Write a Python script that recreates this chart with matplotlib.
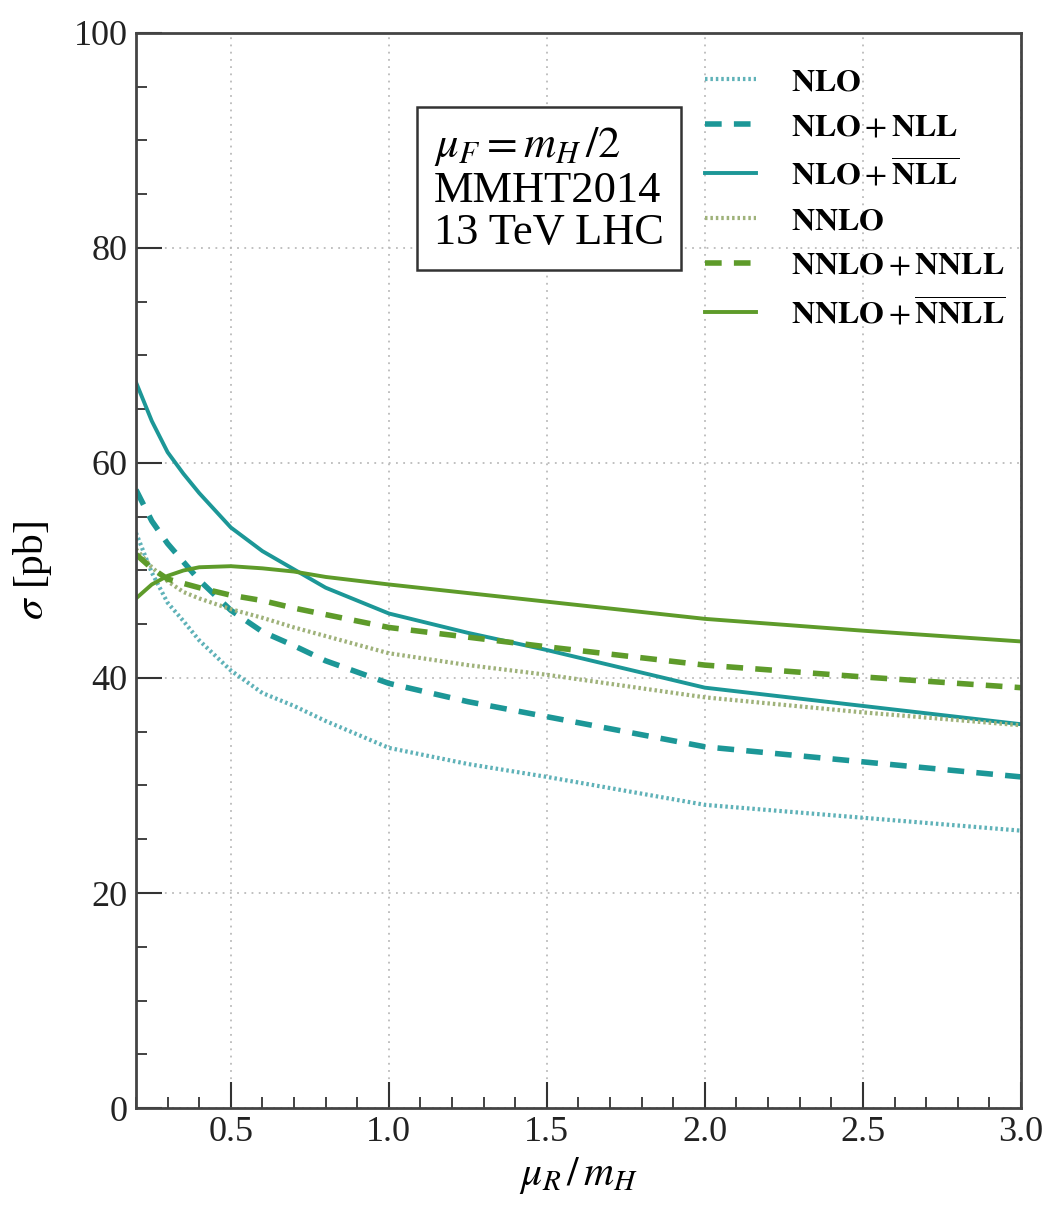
import matplotlib
matplotlib.use("Agg")
import matplotlib.pyplot as plt
from matplotlib.ticker import MultipleLocator

plt.rcParams['font.family'] = ['Liberation Serif', 'DejaVu Serif']
plt.rcParams['mathtext.fontset'] = 'stix'

# mu_R / m_H
x = [0.2, 0.25, 0.3, 0.35, 0.4, 0.5, 0.6, 0.7, 0.8, 1.0, 1.25, 1.5, 2.0, 2.5, 3.0]

nlo      = [53.5, 49.8, 47.0, 45.3, 43.5, 40.7, 38.6, 37.4, 36.0, 33.5, 32.0, 30.8, 28.2, 27.0, 25.8]
nlo_nll  = [57.5, 54.6, 52.5, 50.8, 49.1, 46.3, 44.3, 43.0, 41.6, 39.5, 37.8, 36.4, 33.6, 32.2, 30.8]
nlo_nllb = [67.5, 63.9, 61.0, 59.0, 57.2, 54.0, 51.8, 50.1, 48.4, 46.0, 44.2, 42.6, 39.1, 37.4, 35.7]
nnlo       = [52.0, 50.3, 49.0, 48.0, 47.4, 46.4, 45.6, 44.7, 43.9, 42.3, 41.2, 40.3, 38.2, 36.8, 35.6]
nnlo_nnll  = [51.5, 50.2, 49.2, 48.8, 48.4, 47.7, 47.2, 46.5, 45.9, 44.7, 43.8, 42.9, 41.2, 40.1, 39.1]
nnlo_nnllb = [47.4, 48.7, 49.5, 50.0, 50.3, 50.4, 50.2, 49.9, 49.4, 48.7, 47.9, 47.1, 45.5, 44.4, 43.4]

teal = '#1c9797'
teal_light = '#5fb2b8'
green = '#5e9b2a'
green_light = '#9fb27a'

fig = plt.figure(figsize=(10.56, 12.16), dpi=100)
ax = fig.add_axes([0.1288, 0.0888, 0.838, 0.8841])

ax.plot(x, nlo, color=teal_light, lw=3, ls=(0, (0.6, 0.7)), label=r'$\mathbf{NLO}$')
ax.plot(x, nlo_nll, color=teal, lw=4, ls=(0, (3, 2.2)), label=r'$\mathbf{NLO}+\mathbf{NLL}$')
ax.plot(x, nlo_nllb, color=teal, lw=2.8, label=r'$\mathbf{NLO}+\overline{\mathbf{NLL}}$')
ax.plot(x, nnlo, color=green_light, lw=3, ls=(0, (0.6, 0.7)), label=r'$\mathbf{NNLO}$')
ax.plot(x, nnlo_nnll, color=green, lw=4, ls=(0, (3, 2.2)), label=r'$\mathbf{NNLO}+\mathbf{NNLL}$')
ax.plot(x, nnlo_nnllb, color=green, lw=2.8, label=r'$\mathbf{NNLO}+\overline{\mathbf{NNLL}}$')

ax.set_xlim(0.2, 3.0)
ax.set_ylim(0, 100)
ax.xaxis.set_minor_locator(MultipleLocator(0.1))
ax.yaxis.set_major_locator(MultipleLocator(20))
ax.yaxis.set_minor_locator(MultipleLocator(5))
ax.set_xticks([0.5, 1.0, 1.5, 2.0, 2.5, 3.0])
ax.set_xticklabels(['0.5', '1.0', '1.5', '2.0', '2.5', '3.0'])

ax.tick_params(which='major', direction='in', length=19, width=1.5, labelsize=26,
               colors='#333333', labelcolor='#222222', pad=6)
ax.tick_params(which='minor', direction='in', length=8, width=1.3, colors='#333333')
ax.tick_params(axis='y', which='both', right=False)
ax.tick_params(axis='x', which='both', top=False)

for s in ax.spines.values():
    s.set_color('#444444')
    s.set_linewidth(2)

ax.grid(True, which='major', color='#bbbbbb', ls=(0, (1, 3)), lw=1.3)

ax.set_xlabel(r'$\mu_R\,/\,m_H$', fontsize=30, labelpad=4)
ax.set_ylabel(r'$\sigma$ [pb]', fontsize=30, labelpad=14)

ax.text(0.337, 0.914, r'$\mu_F = m_H\,/2$' + '\nMMHT2014\n13 TeV LHC', transform=ax.transAxes,
        fontsize=32, va='top', ha='left', linespacing=1.08,
        bbox=dict(boxstyle='square,pad=0.38', facecolor='white', edgecolor='#333333', lw=1.8))

leg = ax.legend(loc='upper right', bbox_to_anchor=(1.022, 1.0), frameon=False, fontsize=23,
                handlelength=1.6, handletextpad=1.1, labelspacing=0.48, borderaxespad=0.7)

fig.savefig('out.png', dpi=100)
